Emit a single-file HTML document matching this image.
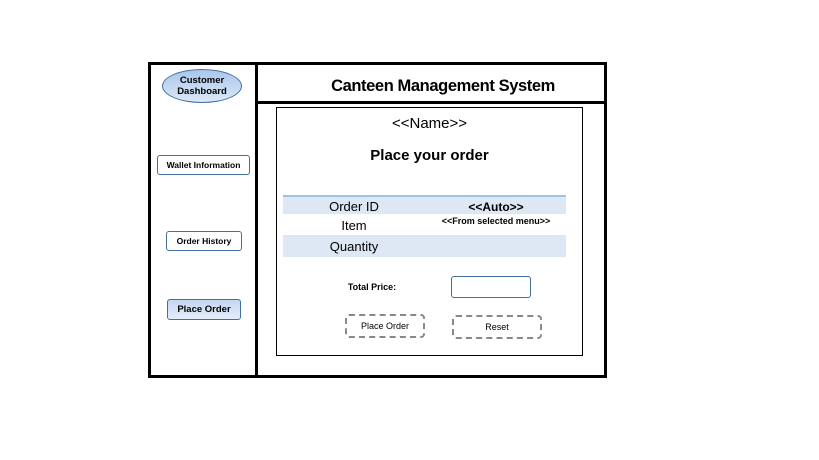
<!DOCTYPE html>
<html><head><style>
body{margin:0;width:819px;height:460px;background:#fff;position:relative;font-family:"Liberation Sans",sans-serif;overflow:hidden}
div{position:absolute;box-sizing:border-box}
.b{border:1px solid #41719c;border-radius:3px;font-size:9px;font-weight:bold;display:flex;align-items:center;justify-content:center;background:#fff}
.c{display:flex;align-items:center;justify-content:center}
</style></head><body>
<div style="left:148px;top:62px;width:459px;height:316px;border:3px solid #000"></div>
<div style="left:255px;top:62px;width:3px;height:316px;background:#000"></div>
<div style="left:256px;top:101px;width:350px;height:3px;background:#000"></div>
<div class="c" style="left:258px;top:72px;width:370px;height:28px;font-size:16.5px;font-weight:bold;letter-spacing:-0.4px">Canteen Management System</div>
<div class="c" style="left:162px;top:69px;width:80px;height:34px;border:1px solid #41719c;border-radius:50%;background:linear-gradient(#a9c6ec,#dce8f7);font-size:9.5px;font-weight:bold;line-height:11px;text-align:center">Customer<br>Dashboard</div>
<div class="b" style="left:157px;top:155px;width:93px;height:20px;font-size:8.5px">Wallet Information</div>
<div class="b" style="left:166px;top:231px;width:76px;height:20px;font-size:8.5px">Order History</div>
<div class="b" style="left:167px;top:299px;width:74px;height:21px;background:linear-gradient(#c3d7f1,#e4edf9);font-size:9.5px">Place Order</div>
<div style="left:276px;top:107px;width:307px;height:249px;border:1px solid #000"></div>
<div class="c" style="left:276px;top:113px;width:307px;height:20px;font-size:15px">&lt;&lt;Name&gt;&gt;</div>
<div class="c" style="left:276px;top:144px;width:307px;height:22px;font-size:15px;font-weight:bold">Place your order</div>
<div style="left:283px;top:195px;width:283px;height:2px;background:#9dc3e6"></div>
<div style="left:283px;top:197px;width:283px;height:17px;background:#dde8f4"></div>
<div style="left:283px;top:235px;width:283px;height:22px;background:#dde8f4"></div>
<div class="c" style="left:314px;top:198px;width:80px;height:17px;font-size:13px">Order ID</div>
<div class="c" style="left:436px;top:198px;width:120px;height:17px;font-size:12px;font-weight:bold">&lt;&lt;Auto&gt;&gt;</div>
<div class="c" style="left:314px;top:216px;width:80px;height:18px;font-size:13px">Item</div>
<div class="c" style="left:426px;top:214px;width:140px;height:14px;font-size:9px;font-weight:bold">&lt;&lt;From selected menu&gt;&gt;</div>
<div class="c" style="left:314px;top:236px;width:80px;height:20px;font-size:13px">Quantity</div>
<div class="c" style="left:330px;top:279px;width:84px;height:16px;font-size:9px;font-weight:bold">Total Price:</div>
<div style="left:451px;top:276px;width:80px;height:22px;border:1px solid #41719c;border-radius:3px"></div>
<div class="c" style="left:345px;top:314px;width:80px;height:24px;border:2px dashed #888;border-radius:4px;font-size:9px">Place Order</div>
<div class="c" style="left:452px;top:315px;width:90px;height:24px;border:2px dashed #888;border-radius:4px;font-size:9px">Reset</div>
</body></html>
